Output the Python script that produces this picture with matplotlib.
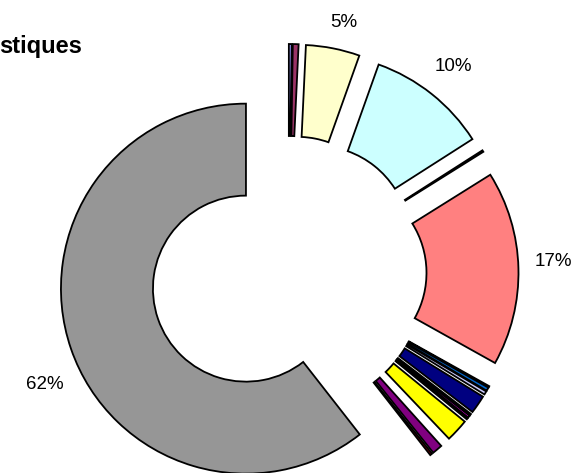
import matplotlib
matplotlib.use("Agg")
import matplotlib.pyplot as plt

plt.rcParams['font.family'] = ['Liberation Sans', 'DejaVu Sans']

# parts du donut, dans le sens horaire depuis midi
valeurs = [0.25, 0.5, 4.7, 10.5, 0.15, 17.0, 0.1, 0.3, 0.3, 1.6, 0.15, 0.2, 0.15, 2.0, 0.45, 0.9, 0.2, 60.55]
couleurs = ['#9999FF', '#993366', '#FFFFCC', '#CCFFFF', '#660066', '#FF8080', '#000000', '#0066CC',
            '#CCCCFF', '#000080', '#FFFFFF', '#FF00FF', '#FFFFFF', '#FFFF00', '#FFFFFF', '#800080',
            '#800000', '#969696']
etiquettes = ['', '', '5%', '10%', '', '17%', '', '', '', '', '', '', '', '', '', '', '', '62%']
titre = "stiques"

W, H = 574, 473
fig = plt.figure(figsize=(W / 100, H / 100), dpi=100)
ax = fig.add_axes([0, 0, 1, 1])

rayon = 185
ecart = 45
wedges, textes = ax.pie(valeurs, colors=couleurs, labels=etiquettes, startangle=90, counterclock=False,
                        center=(288.5, 199), radius=rayon, explode=[ecart] * len(valeurs),
                        labeldistance=1.19, frame=True,
                        wedgeprops=dict(width=92, edgecolor='black', linewidth=1.3),
                        textprops=dict(fontsize=13.5, ha='center', va='center', color='black'))
# la part blanche entre le jaune et le violet ne se voit pas
wedges[14].set_edgecolor('none')

# petits decalages des etiquettes comme dans Excel
decalages = {2: (4, -9), 5: (0, 6), 17: (7, -24)}
for i, (dx, dy) in decalages.items():
    x0, y0 = textes[i].get_position()
    textes[i].set_position((x0 + dx, y0 + dy))

ax.set_xlim(0, W)
ax.set_ylim(0, H)
ax.set_aspect('equal')
ax.axis('off')

ax.text(82, 420, titre, fontsize=17, fontweight='bold', ha='right', va='baseline')

fig.savefig('out.png', dpi=100)
